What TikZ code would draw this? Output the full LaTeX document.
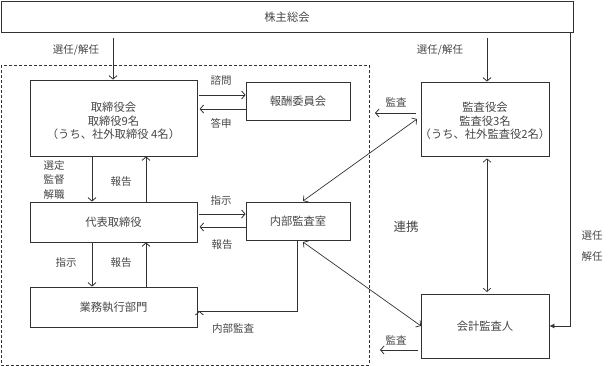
\documentclass[tikz,border=0pt]{standalone}
\usepackage{fontspec}
\setmainfont{Noto Sans CJK JP}
\usetikzlibrary{arrows.meta}
\definecolor{ink}{RGB}{50,50,50}
\definecolor{txt}{RGB}{70,70,70}
\begin{document}
\begin{tikzpicture}[x=1pt,y=-1pt,
  ink/.style={draw=ink,line width=0.8pt},
  box/.style={ink,rectangle,inner sep=0pt},
  lbl/.style={text=txt,font=\fontsize{10.5}{13}\selectfont,inner sep=0pt},
  blbl/.style={text=txt,font=\fontsize{11.3}{13.5}\selectfont,inner sep=0pt,align=center},
  arr/.style={ink,-{Straight Barb[length=3.5pt,width=8pt]}},
  darr/.style={ink,line width=0.7pt,{Straight Barb[length=3.5pt,width=8pt]}-{Straight Barb[length=3.5pt,width=8pt]}}
]
\useasboundingbox (0,0) rectangle (611,366);
% dashed frame
\draw[ink,dashed,dash pattern=on 3pt off 2pt] (1,65) rectangle (369,365);
% boxes
\node[box,minimum width=572pt,minimum height=31pt] (gm) at (287,16.5) {};
\node[blbl] at (287,17) {株主総会};
\node[box,minimum width=167pt,minimum height=76pt] (bd) at (113.5,118) {};
\node[blbl] at (113.5,121) {取締役会\\取締役9名\\（うち、社外取締役 4名）};
\node[box,minimum width=104pt,minimum height=38pt] (rc) at (298,101) {};
\node[blbl] at (rc) {報酬委員会};
\node[box,minimum width=128pt,minimum height=74pt] (ab) at (485,119) {};
\node[blbl] at (485,121) {監査役会\\監査役3名\\（うち、社外監査役2名）};
\node[box,minimum width=167pt,minimum height=40pt] (ceo) at (113.5,222) {};
\node[blbl] at (ceo) {代表取締役};
\node[box,minimum width=104pt,minimum height=38pt] (ia) at (298,221) {};
\node[blbl] at (ia) {内部監査室};
\node[box,minimum width=167pt,minimum height=40pt] (ops) at (113.5,307) {};
\node[blbl] at (ops) {業務執行部門};
\node[box,minimum width=128pt,minimum height=64pt] (ea) at (485,326) {};
\node[blbl] at (ea) {会計監査人};
% coordinates
\coordinate (gmL) at (113,38);
\coordinate (gmR) at (487,38);
\coordinate (gmRR) at (570,32);
\coordinate (frameR1) at (375,113);
\coordinate (frameR2) at (380,336);
% from shareholders meeting
\draw[arr] (gmL) -- (bd.north -| gmL);
\node[lbl] at (76,50) {選任/解任};
\draw[arr] (gmR) -- (ab.north -| gmR);
\node[lbl] at (440,50) {選任/解任};
\draw[ink,-{Latex[length=5pt,width=5pt]}] (gmRR) -- (570,326) -- (ea.east |- 0,326);
\node[lbl] at (592,236) {選任};
\node[lbl] at (592,257) {解任};
% board <-> remuneration committee
\draw[arr] (bd.east |- 0,95) ++(2,0) -- (rc.west |- 0,95);
\node[lbl] at (221,81) {諮問};
\draw[arr] (rc.west |- 0,109) -- ++(-46,0);
\node[lbl] at (221,123) {答申};
% audit board audit
\draw[arr] (ab.west |- 0,113) ++(-5,0) -- (frameR1);
\node[lbl] at (396,102) {監査};
% board <-> CEO
\draw[arr] (bd.south -| 92,0) -- (ceo.north -| 92,0);
\node[lbl,align=center,font=\fontsize{10.5}{14.5}\selectfont] at (54,180) {選定\\監督\\解職};
\draw[arr] (ceo.north -| 146,0) -- (bd.south -| 146,0);
\node[lbl] at (121,182) {報告};
% CEO <-> internal audit
\draw[arr] (ceo.east |- 0,214) ++(2,0) -- (ia.west |- 0,214);
\node[lbl] at (221,201) {指示};
\draw[arr] (ia.west |- 0,227) -- ++(-46,0);
\node[lbl] at (222,245) {報告};
% CEO <-> operations
\draw[arr] (ceo.south -| 92,0) -- (ops.north -| 92,0);
\node[lbl] at (66,263) {指示};
\draw[arr] (ops.north -| 146,0) -- (ceo.south -| 146,0);
\node[lbl] at (121,263) {報告};
% internal audit -> operations
\draw[arr] (ia.south -| 297,0) -- (297,311) -- (ops.east |- 0,311) ++(2,0);
\node[lbl] at (233,329) {内部監査};
% cooperation
\draw[darr] (303,201) -- (417,119);
\draw[darr] (303,242) -- (421,326);
\draw[darr] (ab.south -| 487,0) ++(0,2) -- (487,292);
\node[lbl,font=\fontsize{12.5}{14}\selectfont] at (406,227) {連携};
% external auditor audit
\draw[arr] (ea.west |- 0,350) ++(-3,0) -- (frameR2 |- 0,350);
\node[lbl] at (396,340) {監査};
\end{tikzpicture}
\end{document}
